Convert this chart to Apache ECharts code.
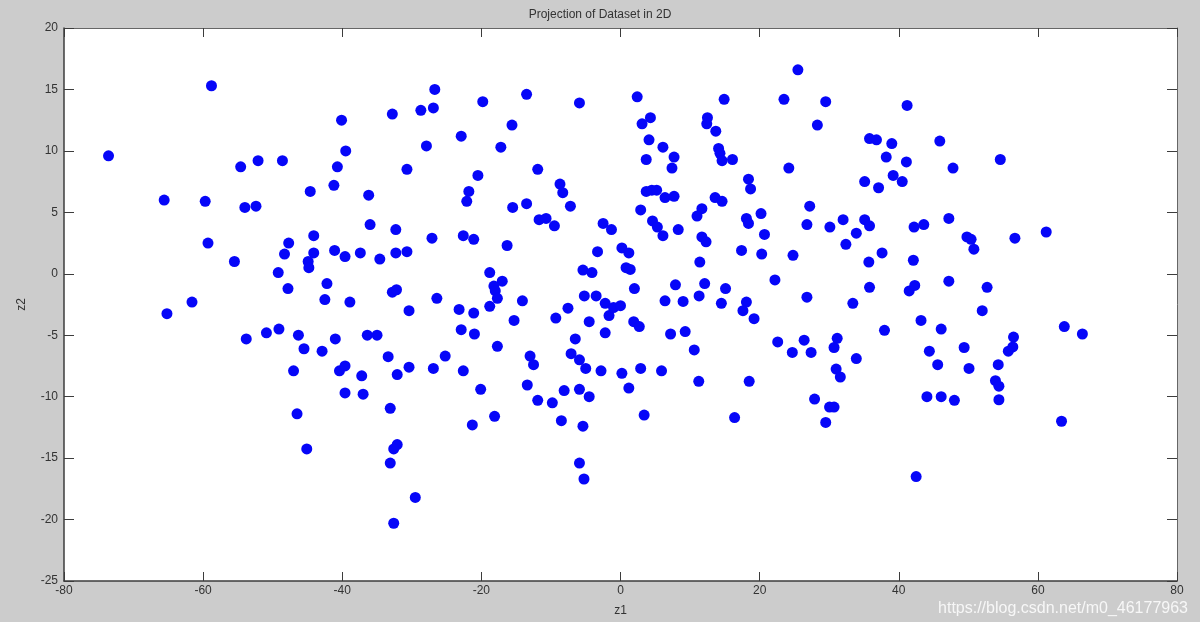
<!DOCTYPE html>
<html>
<head>
<meta charset="utf-8">
<script src="https://cdn.jsdelivr.net/npm/echarts@6/dist/echarts.min.js"></script>
<style>html,body{margin:0;padding:0;background:#cccccc;}#c{width:1200px;height:622px;}</style>
</head>
<body>
<div id="c"></div>
<script>
const titleText = 'Projection of Dataset in 2D';
const xName = 'z1';
const yName = 'z2';
const xTicks = [-80, -60, -40, -20, 0, 20, 40, 60, 80];
const yTicks = [-25, -20, -15, -10, -5, 0, 5, 10, 15, 20];

const ptsUpperLeft = [[-73.6,9.6],[-58.8,15.3],[-40.1,12.5],[-39.5,10.0],[-40.7,8.7],[-54.6,8.7],[-52.1,9.2],[-48.6,9.2],[-41.2,7.2],[-44.6,6.7],[-65.6,6.0],[-59.7,5.9],[-54.0,5.4],[-52.4,5.5],[-44.1,3.1],[-47.7,2.5],[-41.1,1.9],[-39.6,1.4],[-59.3,2.5],[-48.3,1.6],[-44.1,1.7],[-44.9,1.0],[-44.8,0.5],[-55.5,1.0],[-49.2,0.1],[-42.2,-0.8],[-47.8,-1.2],[-61.6,-2.3],[-42.5,-2.1]];
const ptsUpperMidLeft = [[-26.7,15.0],[-26.9,13.5],[-28.7,13.3],[-32.8,13.0],[-19.8,14.0],[-13.5,14.6],[-5.9,13.9],[-15.6,12.1],[-22.9,11.2],[-27.9,10.4],[-17.2,10.3],[-30.7,8.5],[-11.9,8.5],[-20.5,8.0],[-8.7,7.3],[-8.3,6.6],[-21.8,6.7],[-22.1,5.9],[-36.2,6.4],[-15.5,5.4],[-13.5,5.7],[-7.2,5.5],[-11.7,4.4],[-10.7,4.5],[-9.5,3.9],[-2.5,4.1],[-1.3,3.6],[-36.0,4.0],[-32.3,3.6],[-27.1,2.9],[-22.6,3.1],[-21.1,2.8],[-16.3,2.3],[0.2,2.1],[1.2,1.7],[-3.3,1.8],[-37.4,1.7],[-34.6,1.2],[-32.3,1.7],[-30.7,1.8],[0.8,0.5],[-5.4,0.3],[-4.1,0.1],[-18.8,0.1],[-17.0,-0.6],[-18.2,-1.0],[-18.0,-1.4],[-17.7,-2.0],[-32.8,-1.5],[-32.2,-1.3],[-26.4,-2.0],[-38.9,-2.3],[-14.1,-2.2],[-5.2,-1.8],[-3.5,-1.8]];
const ptsUpperMidRight = [[25.5,16.6],[2.4,14.4],[14.9,14.2],[23.5,14.2],[29.5,14.0],[41.2,13.7],[4.3,12.7],[3.1,12.2],[12.5,12.7],[12.4,12.2],[13.7,11.6],[28.3,12.1],[4.1,10.9],[6.1,10.3],[14.1,10.2],[14.3,9.8],[14.6,9.2],[16.1,9.3],[3.7,9.3],[7.7,9.5],[7.4,8.6],[24.2,8.6],[35.8,11.0],[36.8,10.9],[39.0,10.6],[38.2,9.5],[41.1,9.1],[39.2,8.0],[40.5,7.5],[35.1,7.5],[37.1,7.0],[18.4,7.7],[18.7,6.9],[3.7,6.7],[4.5,6.8],[5.2,6.8],[6.4,6.2],[7.7,6.3],[13.6,6.2],[14.6,5.9],[2.9,5.2],[11.7,5.3],[11.0,4.7],[27.2,5.5],[4.6,4.3],[5.3,3.8],[6.1,3.1],[8.3,3.6],[18.1,4.5],[18.4,4.1],[20.2,4.9],[20.7,3.2],[26.8,4.0],[30.1,3.8],[32.0,4.4],[35.1,4.4],[35.8,3.9],[33.9,3.3],[32.4,2.4],[11.7,3.0],[12.3,2.6],[17.4,1.9],[20.3,1.6],[24.8,1.5],[37.6,1.7],[1.4,0.35],[11.4,0.95],[35.7,0.95],[2.0,-1.2],[7.9,-0.9],[12.1,-0.8],[15.1,-1.2],[11.3,-1.8],[22.2,-0.5],[35.8,-1.1],[26.8,-1.9],[6.4,-2.2],[9.0,-2.25],[14.5,-2.4],[18.1,-2.3],[33.4,-2.4],[41.5,-1.4]];
const ptsUpperRight = [[45.9,10.8],[47.8,8.6],[54.6,9.3],[47.2,4.5],[42.2,3.8],[43.6,4.0],[49.8,3.0],[50.4,2.8],[50.8,2.0],[56.7,2.9],[61.2,3.4],[42.1,1.1],[47.2,-0.6],[52.7,-1.1],[42.3,-0.95]];
const ptsLowerLeft = [[-65.2,-3.25],[-53.8,-5.3],[-50.9,-4.8],[-49.1,-4.5],[-46.3,-5.0],[-45.5,-6.1],[-42.9,-6.3],[-41.0,-5.3],[-47.0,-7.9],[-40.4,-7.9],[-39.6,-7.5],[-39.6,-9.7],[-46.5,-11.4],[-45.1,-14.25]];
const ptsLowerMidLeft = [[-30.4,-3.0],[-23.2,-2.9],[-21.1,-3.2],[-18.8,-2.65],[-15.3,-3.8],[-22.9,-4.55],[-21.0,-4.9],[-36.4,-5.0],[-35.0,-5.0],[-17.7,-5.9],[-33.4,-6.75],[-25.2,-6.7],[-37.2,-8.3],[-32.1,-8.2],[-30.4,-7.6],[-26.9,-7.7],[-22.6,-7.9],[-37.0,-9.8],[-20.1,-9.4],[-33.1,-10.95],[-18.1,-11.6],[-21.3,-12.3],[-32.1,-13.9],[-32.6,-14.25],[-33.1,-15.4],[-29.5,-18.2],[-32.6,-20.3],[-7.55,-2.8],[-9.3,-3.6],[-4.5,-3.9],[-2.2,-2.4],[-1.65,-3.4],[-1.0,-2.75],[0.0,-2.6],[-2.2,-4.8],[-6.5,-5.3],[-7.1,-6.5],[-5.9,-7.0],[-5.0,-7.7],[-13.0,-6.7],[-12.5,-7.4],[-2.8,-7.9],[0.2,-8.1],[1.2,-9.3],[-13.4,-9.05],[-11.9,-10.3],[-9.8,-10.5],[-8.1,-9.5],[-5.9,-9.4],[-4.5,-10.0],[-8.5,-11.95],[-5.4,-12.4],[-5.9,-15.4],[-5.25,-16.7]];
const ptsLowerMidRight = [[17.6,-3.0],[19.2,-3.65],[1.9,-3.9],[2.7,-4.3],[7.2,-4.9],[9.3,-4.7],[10.6,-6.2],[2.9,-7.7],[5.9,-7.9],[11.25,-8.75],[18.5,-8.75],[3.4,-11.5],[16.4,-11.7],[22.6,-5.55],[26.4,-5.4],[24.7,-6.4],[27.4,-6.4],[31.15,-5.25],[30.7,-6.0],[33.9,-6.9],[31.0,-7.75],[31.6,-8.4],[37.95,-4.6],[27.9,-10.2],[30.05,-10.85],[30.7,-10.85],[29.5,-12.1]];
const ptsLowerRight = [[52.0,-3.0],[43.2,-3.8],[46.1,-4.5],[44.4,-6.3],[49.4,-6.0],[45.6,-7.4],[50.1,-7.7],[56.5,-5.15],[56.4,-5.95],[55.75,-6.3],[54.3,-7.4],[53.9,-8.7],[54.4,-9.15],[44.05,-10.0],[46.1,-10.0],[48.0,-10.3],[54.4,-10.25],[63.8,-4.3],[66.4,-4.9],[63.4,-12.0],[42.5,-16.5]];

const points = [].concat(ptsUpperLeft, ptsUpperMidLeft, ptsUpperMidRight, ptsUpperRight,
  ptsLowerLeft, ptsLowerMidLeft, ptsLowerMidRight, ptsLowerRight);

const chart = echarts.init(document.getElementById('c'), null, {renderer: 'canvas'});
const axisColor = '#3c3c3c';
const labelFont = {color: '#333', fontSize: 12, fontFamily: 'Liberation Sans, Arial, sans-serif'};
const xMin = xTicks[0], xMax = xTicks[xTicks.length - 1];
const yMin = yTicks[0], yMax = yTicks[yTicks.length - 1];
const xInt = xTicks[1] - xTicks[0], yInt = yTicks[1] - yTicks[0];

chart.setOption({
  backgroundColor: '#cccccc',
  animation: false,
  title: {
    text: titleText, left: 'center', top: 4,
    textStyle: {fontSize: 12, fontWeight: 'normal', color: '#333', fontFamily: 'Liberation Sans, Arial, sans-serif'}
  },
  grid: {left: 64, right: 23, top: 28, bottom: 40, show: true, backgroundColor: '#ffffff', borderWidth: 0},
  xAxis: [{
    type: 'value', min: xMin, max: xMax, interval: xInt, position: 'bottom',
    name: xName, nameLocation: 'middle', nameGap: 24,
    nameTextStyle: labelFont,
    axisLine: {show: true, onZero: false, lineStyle: {color: axisColor, width: 1.5}},
    axisTick: {show: true, inside: true, length: 9, lineStyle: {color: axisColor}},
    axisLabel: Object.assign({margin: 4}, labelFont),
    splitLine: {show: false}
  }, {
    type: 'value', min: xMin, max: xMax, interval: xInt, position: 'top',
    axisLine: {show: true, onZero: false, lineStyle: {color: '#666', width: 1}},
    axisTick: {show: true, inside: true, length: 9, lineStyle: {color: axisColor}},
    axisLabel: {show: false}, splitLine: {show: false}
  }],
  yAxis: [{
    type: 'value', min: yMin, max: yMax, interval: yInt, position: 'left',
    name: yName, nameLocation: 'middle', nameGap: 36, nameRotate: 90,
    nameTextStyle: labelFont,
    axisLine: {show: true, onZero: false, lineStyle: {color: axisColor, width: 1.5}},
    axisTick: {show: true, inside: true, length: 10, lineStyle: {color: axisColor}},
    axisLabel: Object.assign({margin: 6}, labelFont),
    splitLine: {show: false}
  }, {
    type: 'value', min: yMin, max: yMax, interval: yInt, position: 'right',
    axisLine: {show: true, onZero: false, lineStyle: {color: '#666', width: 1}},
    axisTick: {show: true, inside: true, length: 10, lineStyle: {color: axisColor}},
    axisLabel: {show: false}, splitLine: {show: false}
  }],
  series: [{
    type: 'scatter', xAxisIndex: 0, yAxisIndex: 0,
    data: points, symbol: 'circle', symbolSize: 11,
    itemStyle: {color: '#0606f8', opacity: 1}
  }],
  graphic: [{
    type: 'text', right: 12, bottom: 5, z: 100,
    style: {
      text: 'https://blog.csdn.net/m0_46177963',
      fill: '#f7f7f7', font: '16px Liberation Sans, Arial, sans-serif',
      shadowBlur: 2, shadowColor: 'rgba(0,0,0,0.45)', shadowOffsetX: 1, shadowOffsetY: 1
    }
  }]
});
</script>
</body>
</html>
